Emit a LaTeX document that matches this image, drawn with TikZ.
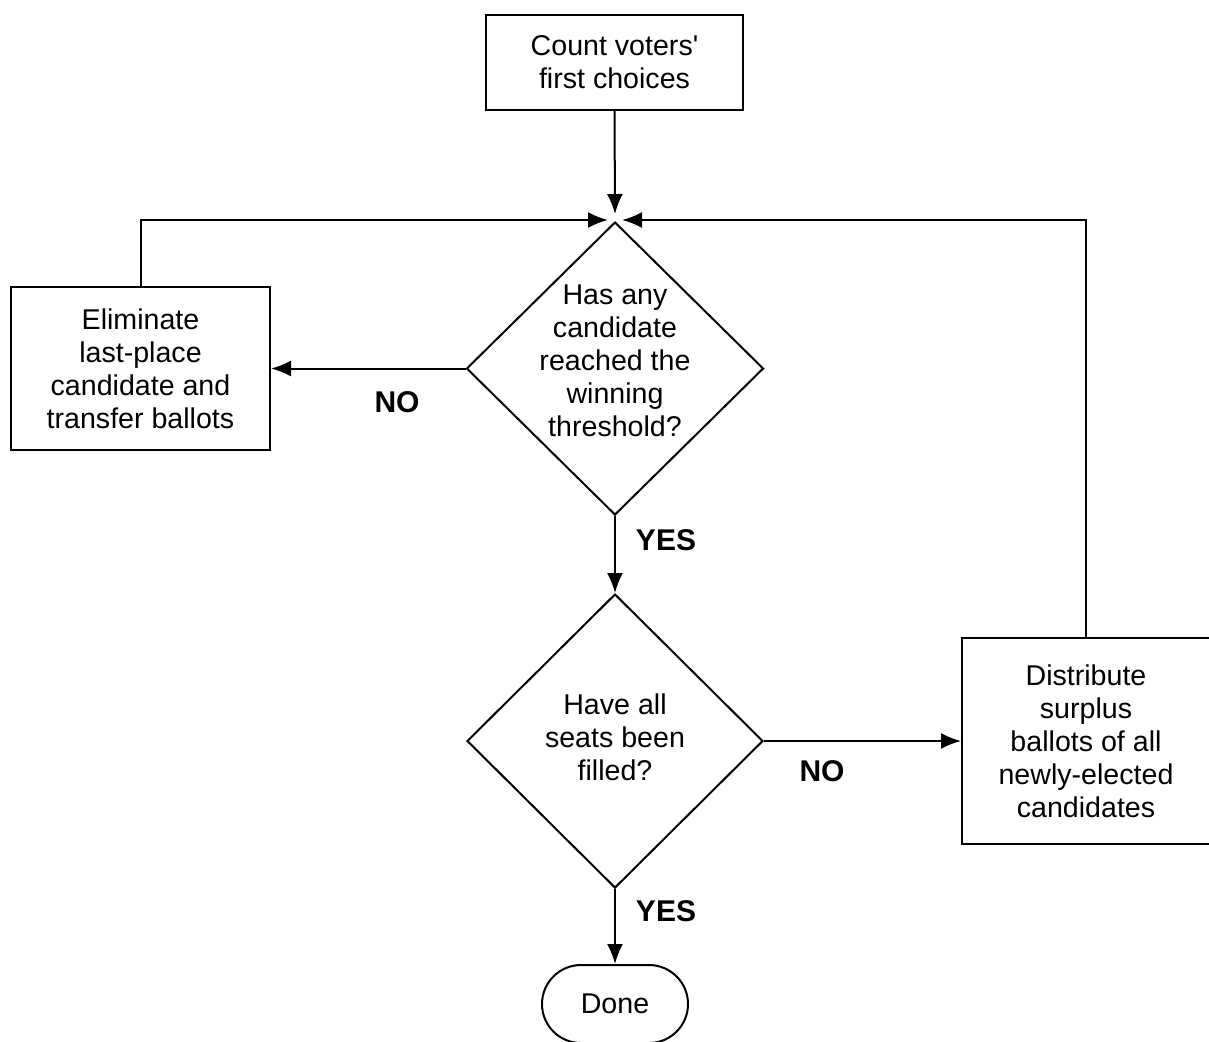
\documentclass[tikz,border=0pt]{standalone}
\usepackage{fontspec}
\setmainfont{Liberation Sans}
\usetikzlibrary{shapes.geometric,shapes.misc,arrows.meta}
\begin{document}
\begin{tikzpicture}[x=0.5pt,y=-0.5pt,
  every node/.style={font=\fontsize{14.3}{16.5}\selectfont},
  box/.style={draw,line width=1pt,rectangle,inner sep=0pt,align=center},
  dia/.style={draw,line width=1pt,diamond,inner sep=0pt},
  txt/.style={align=center,inner sep=0pt},
  lbl/.style={font=\fontsize{15}{18}\selectfont\bfseries},
  conn/.style={line width=1pt,-{Latex[length=10pt,width=8pt]}}]
\useasboundingbox (0,0) rectangle (1209,1041);
\clip (0,0) rectangle (1209,1041);
\node[box,minimum width=128.5pt,minimum height=47.5pt] (count) at (614.5,62.5) {Count voters\textquotesingle\\first choices};
\node[dia,minimum width=148.5pt,minimum height=146.5pt] (d1) at (615,368.5) {};
\node[txt] (d1t) at (615,361) {Has any\\candidate\\reached the\\winning\\threshold?};
\node[box,minimum width=129.5pt,minimum height=81.5pt] (elim) at (140.5,368.5) {Eliminate\\last-place\\candidate and\\transfer ballots};
\node[dia,minimum width=148pt,minimum height=147pt] (d2) at (615,741) {};
\node[txt] (d2t) at (615,737) {Have all\\seats been\\filled?};
\node[box,minimum width=124pt,minimum height=103pt] (dist) at (1086,741) {Distribute\\surplus\\ballots of all\\newly-elected\\candidates};
\node[draw,line width=1pt,rounded rectangle,minimum width=73pt,minimum height=39pt,inner sep=0pt] (done) at (615,1004) {Done};
\coordinate (inl) at (608,220);
\coordinate (inr) at (622,220);
\draw[conn] (count.south) -- ([yshift=3.5pt]d1.north);
\draw[conn] (elim.north) |- (inl);
\draw[conn] (dist.north) |- (inr);
\draw[conn] (d1.west) -- (elim.east);
\draw[conn] (d1.south) -- (d2.north);
\draw[conn] (d2.east) -- (dist.west);
\draw[conn] (d2.south) -- (done.north);
\node[lbl] (no1) at (397,402) {NO};
\node[lbl] (yes1) at (666,540) {YES};
\node[lbl] (no2) at (822,771) {NO};
\node[lbl] (yes2) at (666,911) {YES};
\end{tikzpicture}
\end{document}
